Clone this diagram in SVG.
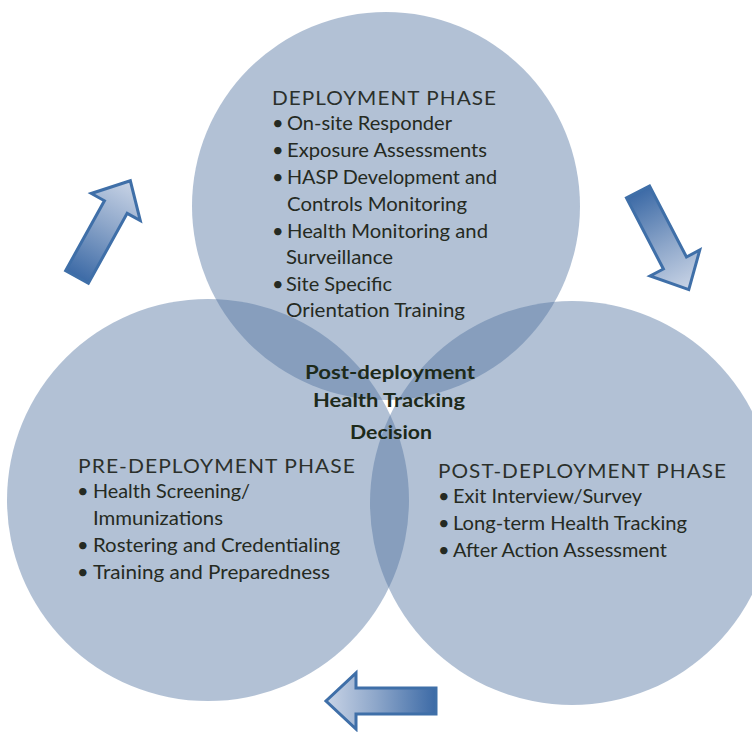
<svg xmlns="http://www.w3.org/2000/svg" width="752" height="732" viewBox="0 0 752 732">
<defs>
<linearGradient id="arrowGrad" gradientUnits="userSpaceOnUse" x1="0" y1="0" x2="110" y2="0">
<stop offset="0" stop-color="#3c6aa6"/>
<stop offset="0.55" stop-color="#8ea7ca"/>
<stop offset="1" stop-color="#c9d4e6"/>
</linearGradient>
<path id="blockArrow" d="M0,-13 L80,-13 L80,-28 L110,0 L80,28 L80,13 L0,13 Z"/>
</defs>
<style>
.phase { fill: #5072a0; fill-opacity: 0.44; }
.title { font-family: Lato, "Open Sans", "Liberation Sans", sans-serif; font-size: 20px; fill: #2b302b; letter-spacing: 1px; }
.item { font-family: Lato, "Open Sans", "Liberation Sans", sans-serif; font-size: 20px; fill: #252a22; }
.center { font-family: Lato, "Open Sans", "Liberation Sans", sans-serif; font-size: 19px; font-weight: bold; fill: #1d2a1a; text-anchor: middle; }
.arrow { fill: url(#arrowGrad); stroke: #3f6fa8; stroke-width: 3; stroke-linejoin: miter; }
</style>
<rect width="752" height="732" fill="#ffffff"/>

<g id="deployment-phase">
<circle class="phase" cx="386" cy="206" r="194"/>
</g>
<g id="pre-deployment-phase">
<circle class="phase" cx="208" cy="500" r="201"/>
</g>
<g id="post-deployment-phase">
<circle class="phase" cx="572" cy="503" r="202"/>
</g>

<g id="deployment-phase-text">
<text class="title" x="272" y="105" textLength="225" lengthAdjust="spacingAndGlyphs">DEPLOYMENT PHASE</text>
<text class="item" x="272" y="130">•</text>
<text class="item" x="287" y="130" textLength="165" lengthAdjust="spacingAndGlyphs">On-site Responder</text>
<text class="item" x="272" y="157">•</text>
<text class="item" x="287" y="157" textLength="200" lengthAdjust="spacingAndGlyphs">Exposure Assessments</text>
<text class="item" x="272" y="184">•</text>
<text class="item" x="287" y="184" textLength="210" lengthAdjust="spacingAndGlyphs">HASP Development and</text>
<text class="item" x="287" y="211" textLength="180" lengthAdjust="spacingAndGlyphs">Controls Monitoring</text>
<text class="item" x="272" y="238">•</text>
<text class="item" x="287" y="238" textLength="201" lengthAdjust="spacingAndGlyphs">Health Monitoring and</text>
<text class="item" x="286" y="264" textLength="107" lengthAdjust="spacingAndGlyphs">Surveillance</text>
<text class="item" x="272" y="291">•</text>
<text class="item" x="286" y="291" textLength="106" lengthAdjust="spacingAndGlyphs">Site Specific</text>
<text class="item" x="286" y="317" textLength="179" lengthAdjust="spacingAndGlyphs">Orientation Training</text>
</g>

<g id="pre-deployment-phase-text">
<text class="title" x="78" y="473" textLength="278" lengthAdjust="spacingAndGlyphs">PRE-DEPLOYMENT PHASE</text>
<text class="item" x="77" y="498">•</text>
<text class="item" x="93" y="498" textLength="157" lengthAdjust="spacingAndGlyphs">Health Screening/</text>
<text class="item" x="93" y="525" textLength="130" lengthAdjust="spacingAndGlyphs">Immunizations</text>
<text class="item" x="77" y="552">•</text>
<text class="item" x="93" y="552" textLength="247" lengthAdjust="spacingAndGlyphs">Rostering and Credentialing</text>
<text class="item" x="77" y="579">•</text>
<text class="item" x="93" y="579" textLength="237" lengthAdjust="spacingAndGlyphs">Training and Preparedness</text>
</g>

<g id="post-deployment-phase-text">
<text class="title" x="438" y="478" textLength="289" lengthAdjust="spacingAndGlyphs">POST-DEPLOYMENT PHASE</text>
<text class="item" x="438" y="503">•</text>
<text class="item" x="453" y="503" textLength="189" lengthAdjust="spacingAndGlyphs">Exit Interview/Survey</text>
<text class="item" x="438" y="530">•</text>
<text class="item" x="453" y="530" textLength="234" lengthAdjust="spacingAndGlyphs">Long-term Health Tracking</text>
<text class="item" x="438" y="557">•</text>
<text class="item" x="453" y="557" textLength="214" lengthAdjust="spacingAndGlyphs">After Action Assessment</text>
</g>

<g id="health-tracking-decision">
<text class="center" x="390" y="379" textLength="170" lengthAdjust="spacingAndGlyphs">Post-deployment</text>
<text class="center" x="389" y="407" textLength="152" lengthAdjust="spacingAndGlyphs">Health Tracking</text>
<text class="center" x="391" y="439" textLength="82" lengthAdjust="spacingAndGlyphs">Decision</text>
</g>

<g id="connectors">
<use href="#blockArrow" class="arrow" transform="translate(77,277) rotate(-61)"/>
<use href="#blockArrow" class="arrow" transform="translate(638,192) rotate(62.5)"/>
<use href="#blockArrow" class="arrow" transform="translate(436,701) rotate(180)"/>
</g>
</svg>
